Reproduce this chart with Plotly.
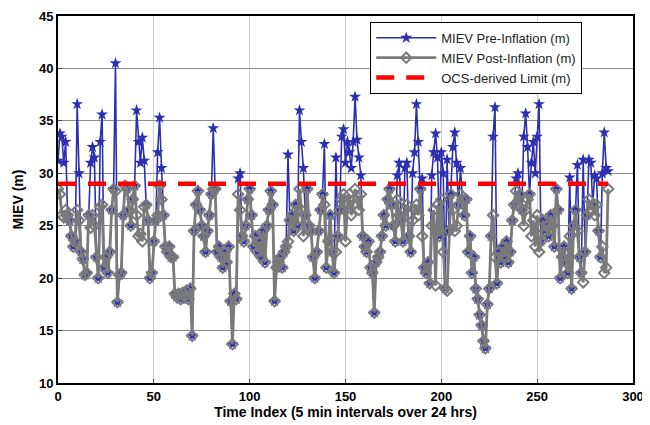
import plotly.graph_objects as go

# MIEV pre-inflation values (m), one per 5-minute interval
pre = [
    31.2, 33.8, 33.5, 31.0, 33.0, 26.0, 25.5, 24.0, 23.0, 23.5, 36.6, 30.0,
    22.5, 21.8, 20.3, 20.5, 26.0, 31.0, 32.5, 31.5, 22.0, 20.0, 33.0, 35.6,
    21.0, 22.0, 20.5, 22.5, 26.5, 28.5, 40.5, 17.7, 20.3, 20.5, 26.0, 28.8,
    28.5, 26.5, 25.0, 27.5, 28.8, 36.0, 33.0, 31.0, 33.4, 31.2, 27.0, 25.5,
    20.0, 20.5, 23.5, 25.5, 32.0, 35.3, 30.5, 26.0, 23.0, 22.5, 23.0, 22.0,
    22.0, 18.5, 18.2, 18.5, 18.0, 18.6, 18.2, 18.8, 18.0, 19.0, 14.5, 24.5,
    27.0, 28.3, 26.5, 25.0, 24.0, 22.5, 24.5, 26.0, 28.0, 34.3, 28.5, 22.5,
    23.0, 22.0, 21.0, 22.5, 21.5, 23.0, 17.8, 13.7, 18.5, 18.0, 29.5, 30.0,
    24.0, 23.5, 25.0, 27.5, 28.5, 26.0, 23.0, 24.0, 22.5, 23.5, 22.0, 24.5,
    21.5, 25.0, 26.5, 28.3, 27.0, 17.8, 21.0, 21.5, 22.0, 21.0, 22.5, 23.0,
    31.8, 25.5, 26.0, 24.5, 27.0, 25.0, 36.0, 33.0, 30.5, 26.0, 28.5, 25.0,
    24.5, 22.0, 20.0, 22.5, 24.5, 26.5, 28.0, 32.8, 21.0, 23.5, 26.0, 22.5,
    20.5, 31.5, 24.0, 26.5, 33.5, 34.2, 31.0, 33.0, 32.0, 30.5, 33.0, 37.3,
    33.2, 31.5, 29.8, 24.0, 23.0, 22.5, 23.5, 21.0, 20.5, 16.7, 21.5, 22.0,
    22.5, 24.0, 26.0, 25.0, 27.5, 28.5, 27.0, 25.0, 23.5, 29.8, 31.0, 25.5,
    23.5, 30.5, 31.0, 24.0, 22.5, 30.0, 32.0, 36.6, 33.0, 28.5, 29.5, 21.0,
    20.5, 21.5, 19.5, 29.8, 32.0, 33.8, 31.5, 24.0, 32.0, 30.0, 19.0, 31.3,
    24.5, 28.0, 32.5, 33.9, 31.0, 27.0, 30.5, 27.5, 26.0, 27.5, 22.5, 24.0,
    20.5, 22.0, 19.0, 18.0, 16.5, 15.5, 14.0, 13.3, 17.5, 19.0, 24.0, 33.5,
    36.3, 19.5, 22.5, 21.5, 23.0, 22.0, 23.5, 21.5, 22.5, 25.5, 27.0, 29.5,
    30.0, 28.0, 26.5, 33.5, 35.7, 32.5, 28.0, 31.0, 33.0, 30.0, 33.5, 36.6,
    23.5, 25.5, 24.5, 25.0, 24.0, 26.0, 25.0, 23.0, 28.5, 26.5, 20.0, 22.0,
    23.0, 21.5, 20.5, 29.6, 19.0, 25.0, 26.5, 30.8, 22.0, 20.5, 31.3, 22.5,
    26.0, 31.3, 31.0, 27.0, 29.8, 29.5, 24.5, 22.0, 30.0, 33.9, 30.5, 30.2,
]

# MIEV post-inflation values (m)
post = [
    28.5, 28.0, 26.0, 25.8, 26.5, 26.0, 25.5, 24.0, 23.0, 23.5, 26.5, 25.5,
    22.5, 21.8, 20.3, 20.5, 26.0, 24.8, 26.0, 25.0, 22.0, 20.0, 26.8, 27.0,
    21.0, 22.0, 20.5, 22.5, 26.5, 28.5, 28.3, 17.7, 20.3, 20.5, 26.0, 28.8,
    28.5, 26.5, 25.0, 27.5, 28.8, 26.0, 24.0, 24.2, 23.5, 26.8, 27.0, 25.5,
    20.0, 20.5, 23.5, 25.5, 26.0, 28.8, 27.5, 26.0, 23.0, 22.5, 23.0, 22.0,
    22.0, 18.5, 18.2, 18.5, 18.0, 18.6, 18.2, 18.8, 18.0, 19.0, 14.5, 24.5,
    27.0, 28.3, 26.5, 25.0, 24.0, 22.5, 24.5, 26.0, 28.0, 28.5, 28.5, 22.5,
    23.0, 22.0, 21.0, 22.5, 21.5, 23.0, 17.8, 13.7, 18.5, 18.0, 28.0, 26.5,
    24.0, 23.5, 25.0, 27.5, 28.5, 26.0, 23.0, 24.0, 22.5, 23.5, 22.0, 24.5,
    21.5, 25.0, 26.5, 28.3, 27.0, 17.8, 21.0, 21.5, 22.0, 21.0, 22.5, 23.0,
    23.5, 25.5, 26.0, 24.5, 27.0, 25.0, 28.5, 26.5, 24.0, 26.0, 28.5, 25.0,
    24.5, 22.0, 20.0, 22.5, 24.5, 26.5, 28.0, 27.0, 21.0, 23.5, 26.0, 22.5,
    20.5, 22.5, 24.0, 26.5, 27.5, 28.0, 23.5, 27.0, 28.0, 26.0, 27.0, 28.5,
    27.8, 26.5, 28.0, 24.0, 23.0, 22.5, 23.5, 21.0, 20.5, 16.7, 21.5, 22.0,
    22.5, 24.0, 26.0, 25.0, 27.5, 28.5, 27.0, 25.0, 23.5, 27.5, 26.0, 25.5,
    23.5, 26.5, 27.0, 24.0, 22.5, 25.5, 26.5, 27.0, 26.0, 28.5, 24.0, 21.0,
    20.5, 21.5, 19.5, 25.0, 26.5, 19.3, 27.0, 24.0, 27.5, 22.5, 19.0, 18.8,
    24.5, 28.0, 26.5, 24.5, 25.0, 27.0, 28.0, 27.5, 26.0, 27.5, 22.5, 24.0,
    20.5, 22.0, 19.0, 18.0, 16.5, 15.5, 14.0, 13.3, 17.5, 19.0, 24.0, 26.0,
    22.0, 19.5, 22.5, 21.5, 23.0, 22.0, 23.5, 21.5, 22.5, 25.5, 27.0, 28.3,
    27.0, 28.0, 26.5, 25.0, 26.5, 27.5, 28.0, 24.0, 25.5, 23.0, 26.0, 22.5,
    23.5, 25.5, 24.5, 25.0, 24.0, 26.0, 25.0, 23.0, 28.5, 26.5, 20.0, 22.0,
    23.0, 21.5, 20.5, 24.0, 19.0, 25.0, 26.5, 24.5, 22.0, 20.5, 19.6, 22.5,
    26.0, 27.5, 26.5, 27.0, 26.0, 27.0, 24.5, 22.0, 23.0, 20.5, 21.0, 28.5,
]

limit_value = 29.0
time_index = list(range(len(pre)))
x_ticks = [0, 50, 100, 150, 200, 250, 300]
y_ticks = [10, 15, 20, 25, 30, 35, 40, 45]

fig = go.Figure()
fig.add_trace(go.Scatter(
    x=time_index, y=pre, mode="lines+markers", name="MIEV Pre-Inflation (m)",
    line=dict(color="#2b2fb0", width=1.6),
    marker=dict(symbol="star", size=9, color="#2b2fb0"),
))
fig.add_trace(go.Scatter(
    x=time_index, y=post, mode="lines+markers", name="MIEV Post-Inflation (m)",
    line=dict(color="#7a7a7a", width=2.8),
    marker=dict(symbol="diamond-open", size=8, color="#7a7a7a", line=dict(width=2)),
))
fig.add_trace(go.Scatter(
    x=[time_index[0], time_index[-1]], y=[limit_value, limit_value], mode="lines",
    name="OCS-derived Limit (m)",
    line=dict(color="#ff0000", width=4.5, dash="18px,12px"),
))

# page is offset ~8px by the browser's default body margin
fig.update_layout(
    width=642, height=417,
    margin=dict(l=50, r=17, t=8, b=42),
    paper_bgcolor="white", plot_bgcolor="white",
    font=dict(family="Liberation Sans, Arial, sans-serif", color="black"),
    legend=dict(
        x=0.543, y=0.984, xanchor="left", yanchor="top",
        bgcolor="white", bordercolor="black", borderwidth=1,
        font=dict(size=13, color="#222"),
        tracegroupgap=0, itemwidth=60,
    ),
    showlegend=True,
)
fig.update_xaxes(
    range=[0, 300], tickvals=x_ticks, showgrid=True, gridcolor="#d0d0d0", gridwidth=1,
    showline=True, linecolor="black", linewidth=2, mirror=True, ticks="inside", ticklen=4,
    tickfont=dict(size=13, weight="bold"), zeroline=False, automargin=False,
    title=dict(text="Time Index (5 min intervals over 24 hrs)", font=dict(size=14, weight="bold"), standoff=0),
)
fig.update_yaxes(
    range=[10, 45], tickvals=y_ticks, showgrid=True, gridcolor="#8c8c8c", gridwidth=1,
    showline=True, linecolor="black", linewidth=2, mirror=True, ticks="inside", ticklen=4,
    tickfont=dict(size=13, weight="bold"), zeroline=False, automargin=False,
    title=dict(text="MIEV (m)", font=dict(size=14, weight="bold"), standoff=12),
)

fig.write_html("out.html")
